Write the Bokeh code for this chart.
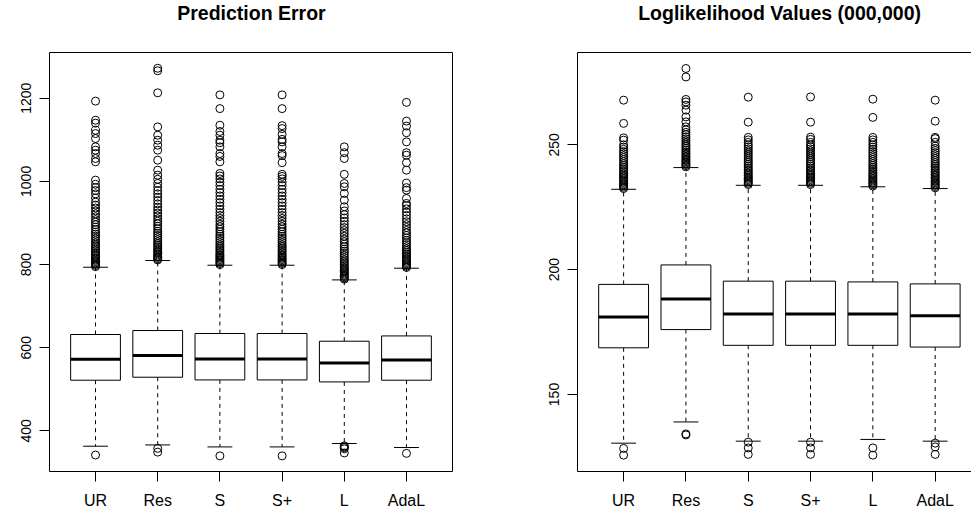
from bokeh.plotting import figure
from bokeh.models import Range1d, FixedTicker, LinearAxis
from bokeh.layouts import row, column
from bokeh.core.properties import value
from bokeh.embed import file_html
from bokeh.resources import INLINE

cats = ["UR", "Res", "S", "S+", "L", "AdaL"]

# ---------------- Prediction Error ----------------
pe_title = "Prediction Error"
pe_yticks = [400, 600, 800, 1000, 1200]
pe_q1 = [521.9, 529.1, 522.6, 522.6, 517.8, 521.9]
pe_med = [572.4, 581.3, 573.1, 573.1, 563.5, 570.7]
pe_q3 = [631.8, 641.4, 634.2, 634.2, 615.7, 628.4]
pe_lo = [363.2, 366.3, 361.5, 361.5, 369.7, 360.1]
pe_hi = [793.6, 809.7, 798.4, 798.4, 763.1, 791.2]
pe_out_UR = [795, 798, 801, 804, 807, 810, 813, 816, 819, 822, 825, 829, 833, 837, 841,
             845, 849, 853, 858, 863, 868, 873, 878, 884, 890, 896, 902, 908, 915, 922,
             929, 936, 943, 950, 960, 970, 978, 985, 993, 1003, 1047, 1055, 1067, 1075,
             1083, 1103, 1115, 1123, 1140, 1147, 1193, 342]
pe_out_Res = [811, 814, 817, 820, 823, 826, 829, 832, 835, 839, 843, 847, 851, 855, 860,
              865, 870, 875, 880, 886, 892, 898, 904, 910, 917, 924, 931, 938, 946, 954,
              962, 970, 978, 986, 995, 1005, 1015, 1027, 1051, 1075, 1087, 1099, 1111,
              1131, 1213, 1266, 1272, 358, 349]
pe_out_S = [800, 803, 806, 809, 812, 815, 818, 821, 824, 828, 832, 836, 840, 844, 848,
            853, 858, 863, 868, 873, 879, 885, 891, 897, 904, 911, 918, 925, 933, 941,
            949, 957, 965, 973, 981, 990, 998, 1006, 1013, 1019, 1047, 1060, 1067, 1083,
            1093, 1099, 1111, 1120, 1135, 1175, 1208, 340]
pe_out_Sp = [800, 803, 806, 809, 812, 815, 818, 821, 824, 828, 832, 836, 840, 844, 848,
             853, 858, 863, 868, 873, 879, 885, 891, 897, 904, 911, 918, 925, 933, 941,
             949, 957, 965, 973, 981, 990, 998, 1006, 1012, 1017, 1045, 1062, 1067, 1083,
             1095, 1101, 1113, 1127, 1134, 1175, 1208, 340]
pe_out_L = [765, 768, 771, 774, 777, 780, 783, 786, 789, 792, 796, 800, 804, 808, 812,
            817, 822, 827, 832, 837, 843, 849, 855, 861, 868, 875, 882, 889, 896, 904,
            912, 920, 929, 939, 955, 971, 987, 995, 1017, 1055, 1069, 1083,
            364, 362, 360, 357, 347]
pe_out_AdaL = [793, 796, 799, 802, 805, 808, 811, 814, 818, 822, 826, 830, 834, 838, 843,
               848, 853, 858, 864, 870, 876, 882, 889, 896, 903, 910, 918, 926, 934, 942,
               947, 959, 979, 985, 996, 1027, 1045, 1063, 1069, 1095, 1117, 1133, 1145,
               1190, 346]
pe_out = [pe_out_UR, pe_out_Res, pe_out_S, pe_out_Sp, pe_out_L, pe_out_AdaL]

# ---------------- Loglikelihood ----------------
ll_title = "Loglikelihood Values (000,000)"
ll_yticks = [150, 200, 250]
ll_q1 = [168.7, 176.0, 169.7, 169.7, 169.7, 169.0]
ll_med = [181.0, 188.3, 182.2, 182.2, 182.2, 181.5]
ll_q3 = [194.1, 201.9, 195.4, 195.4, 195.1, 194.3]
ll_lo = [130.5, 139.0, 131.3, 131.3, 132.0, 131.3]
ll_hi = [232.2, 240.9, 233.8, 233.8, 233.2, 232.5]
ll_out_UR = [232.5, 233.0, 233.5, 234.0, 234.5, 235.0, 235.5, 236.0, 236.6, 237.2, 237.8,
             238.4, 239.0, 239.7, 240.4, 241.1, 241.8, 242.5, 243.3, 244.1, 244.9, 245.7,
             246.5, 247.3, 248.2, 249.1, 250.0, 251.9, 252.8, 258.6, 267.9, 128.4, 125.7]
ll_out_Res = [241.2, 241.7, 242.2, 242.7, 243.2, 243.7, 244.2, 244.8, 245.4, 246.0, 246.6,
              247.2, 247.9, 248.6, 249.3, 250.0, 250.8, 251.6, 252.4, 253.2, 254.1, 255.0,
              256.0, 257.2, 259.2, 261.2, 263.9, 265.9, 267.2, 268.2, 277.2, 280.6,
              134.2, 133.8]
ll_out_S = [234.1, 234.6, 235.1, 235.6, 236.1, 236.6, 237.1, 237.7, 238.3, 238.9, 239.5,
            240.1, 240.8, 241.5, 242.2, 242.9, 243.6, 244.4, 245.2, 246.0, 246.8, 247.6,
            248.4, 249.2, 250.0, 251.0, 252.0, 253.0, 259.1, 269.1, 130.9, 128.6, 126.0]
ll_out_Sp = [234.1, 234.6, 235.1, 235.6, 236.1, 236.6, 237.1, 237.7, 238.3, 238.9, 239.5,
             240.1, 240.8, 241.5, 242.2, 242.9, 243.6, 244.4, 245.2, 246.0, 246.8, 247.6,
             248.4, 249.2, 250.0, 251.0, 252.2, 253.1, 259.1, 269.2, 130.9, 128.6, 126.0]
ll_out_L = [233.5, 234.0, 234.5, 235.0, 235.5, 236.0, 236.6, 237.2, 237.8, 238.4, 239.0,
            239.7, 240.4, 241.1, 241.8, 242.5, 243.3, 244.1, 244.9, 245.7, 246.5, 247.3,
            248.2, 249.1, 250.0, 251.0, 252.0, 253.0, 261.0, 268.3, 128.6, 125.7]
ll_out_AdaL = [232.8, 233.3, 233.8, 234.3, 234.8, 235.3, 235.8, 236.4, 237.0, 237.6, 238.2,
               238.8, 239.4, 240.1, 240.8, 241.5, 242.2, 242.9, 243.7, 244.5, 245.3, 246.1,
               246.9, 247.7, 248.6, 249.5, 251.0, 252.5, 253.0, 259.5, 267.9,
               130.5, 129.0, 126.0]
ll_out = [ll_out_UR, ll_out_Res, ll_out_S, ll_out_Sp, ll_out_L, ll_out_AdaL]

FONT = "Liberation Sans"
FH = 419
TH = 30  # height of the title strip


def title_strip(text, w, mbl, fw, left_x):
    # the strip's frame is aligned with the panel frame below it, so its x range
    # is expressed in the column's pixel coordinates
    t = figure(width=w, height=TH, x_range=Range1d(mbl, mbl + fw), y_range=Range1d(0, TH),
               min_border=0, x_axis_location=None, y_axis_location=None,
               output_backend="svg", toolbar_location=None)
    t.grid.visible = False
    t.outline_line_color = None
    t.background_fill_color = "white"
    t.border_fill_color = "white"
    t.text(x=[left_x], y=[TH - 12.3], text=[text], text_align="left", text_baseline="middle",
           text_font=value(FONT), text_font_size="19.5px", text_font_style="bold",
           text_color="black")
    return t


def panel(q1, med, q3, lo, hi, outs, yticks, y0, y1, x1, mbl, fw, mbr, right_open):
    pos = list(range(1, len(cats) + 1))
    p = figure(frame_width=fw, frame_height=FH, min_border_left=mbl, min_border_right=mbr,
               min_border_top=52 - TH, min_border_bottom=44,
               x_range=Range1d(0.26, x1), y_range=Range1d(y0, y1),
               output_backend="svg", toolbar_location=None)
    p.grid.visible = False
    p.background_fill_color = "white"
    p.border_fill_color = "white"

    # whiskers
    p.segment(x0=pos, y0=q3, x1=pos, y1=hi, line_color="black", line_width=1, line_dash="4 4")
    p.segment(x0=pos, y0=q1, x1=pos, y1=lo, line_color="black", line_width=1, line_dash="4 4")
    # staples
    p.segment(x0=[x - 0.2 for x in pos], x1=[x + 0.2 for x in pos], y0=hi, y1=hi,
              line_color="black", line_width=1)
    p.segment(x0=[x - 0.2 for x in pos], x1=[x + 0.2 for x in pos], y0=lo, y1=lo,
              line_color="black", line_width=1)
    # boxes
    p.vbar(x=pos, width=0.8, bottom=q1, top=q3, fill_color="white", line_color="black",
           line_width=1)
    # medians
    p.segment(x0=[x - 0.4 for x in pos], x1=[x + 0.4 for x in pos], y0=med, y1=med,
              line_color="black", line_width=3, line_cap="butt")
    # outliers
    ox, oy = [], []
    for x, vals in zip(pos, outs):
        ox += [x] * len(vals)
        oy += vals
    p.scatter(ox, oy, marker="circle", size=8, fill_color=None, line_color="black",
              line_width=1)

    xa = p.xaxis[0]
    xa.ticker = FixedTicker(ticks=pos)
    xa.major_label_overrides = {x: c for x, c in zip(pos, cats)}
    ya = p.yaxis[0]
    ya.ticker = FixedTicker(ticks=yticks)
    ya.major_label_orientation = "vertical"
    for ax, fs in ((xa, "16px"), (ya, "14px")):
        ax.major_tick_out = 10
        ax.major_tick_in = 0
        ax.minor_tick_line_color = None
        ax.major_tick_line_color = "black"
        ax.major_label_text_font = FONT
        ax.major_label_text_font_size = fs
        ax.major_label_text_color = "black"
        ax.axis_line_color = None
    xa.major_label_standoff = 10
    ya.major_label_standoff = 8

    if right_open:
        p.outline_line_color = None
        xa.axis_line_color = "black"
        ya.axis_line_color = "black"
        top = LinearAxis(ticker=FixedTicker(ticks=[]), major_tick_out=0, major_tick_in=0,
                         minor_tick_out=0, minor_tick_in=0, major_label_text_font_size="0px",
                         axis_line_color="black", axis_line_width=1)
        p.add_layout(top, "above")
    else:
        p.outline_line_color = "black"
        p.outline_line_width = 1
        p.outline_line_alpha = 1
    return p


p1 = panel(pe_q1, pe_med, pe_q3, pe_lo, pe_hi, pe_out, pe_yticks,
           302.4, 1309.9, 6.74, 49, 403, 34, False)
p2 = panel(ll_q1, ll_med, ll_q3, ll_lo, ll_hi, ll_out, ll_yticks,
           119.15, 287.0, 6.583, 91, 394, 0, True)
t1 = title_strip(pe_title, 486, 49, 403, 176.7)
t2 = title_strip(ll_title, 485, 91, 394, 151.7)

layout = row(column(t1, p1), column(t2, p2))
open("out.html", "w").write(file_html(layout, INLINE))
